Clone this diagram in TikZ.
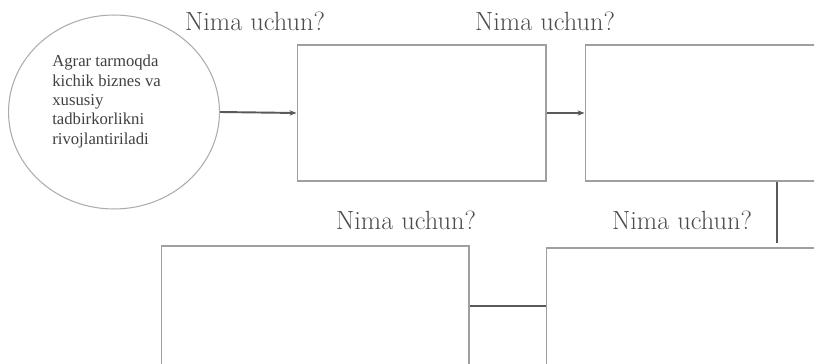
\documentclass[tikz,border=0pt]{standalone}
\usepackage{fontspec}
\newfontfamily\timesfont{Liberation Serif}
\usetikzlibrary{arrows.meta,positioning,shapes}

\begin{document}
\begin{tikzpicture}[x=0.02cm, y=-0.02cm,
    box/.style={rectangle, draw=gray!75, line width=0.6pt, inner sep=0pt},
    oval/.style={ellipse, draw=gray!65, line width=0.6pt, inner sep=0pt, minimum width=4.22cm, minimum height=3.88cm},
    lbl/.style={font=\fontsize{15}{18}\selectfont, text=black!70, inner sep=0pt},
    arr/.style={-{Stealth[length=4pt,width=3pt]}, line width=1.1pt, black!65},
    lin/.style={-, line width=1.1pt, black!65}
]
    \useasboundingbox (0,0) rectangle (814,364);
    % start
    \node[oval] (goal) at (114,112) {};
    \node[font=\timesfont\fontsize{9.5}{11}\selectfont, text=black!75, align=left, anchor=north west, inner sep=0pt] (goaltxt) at (52,55)
        {Agrar tarmoqda\\kichik biznes va\\xususiy\\tadbirkorlikni\\rivojlantiriladi};
    % boxes
    \node[box, minimum width=4.98cm, minimum height=2.72cm] (b1) at (421.5,113) {};
    \node[box, minimum width=4.9cm, minimum height=2.72cm] (b2) at (707.5,113) {};
    \node[box, minimum width=6.16cm, minimum height=2.68cm] (b3) at (315,313) {};
    \node[box, minimum width=5.68cm, minimum height=2.64cm] (b4) at (688,314) {};
    % labels
    \node[lbl] (q1) at (255,21) {Nima uchun?};
    \node[lbl] (q2) at (545,21) {Nima uchun?};
    \node[lbl] (q3) at (406,220) {Nima uchun?};
    \node[lbl] (q4) at (682,220) {Nima uchun?};
    % connectors
    \draw[arr] (goal.east) -- (b1.west);
    \draw[arr] (b1.east) -- (b2.west);
    \coordinate (vend) at (777,243);
    \draw[lin] (vend |- b2.south) -- (vend);
    \coordinate (mid) at ([yshift=0.16cm]b4.west);
    \draw[lin] (mid) -- (mid -| b3.east);
\end{tikzpicture}
\end{document}
